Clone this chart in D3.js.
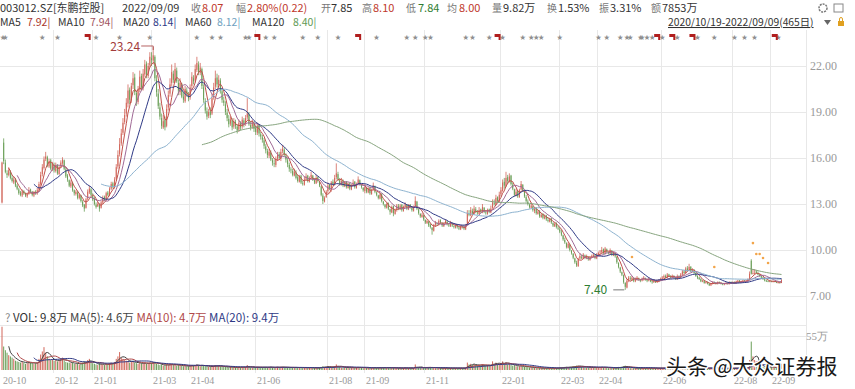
<!DOCTYPE html>
<html>
<head>
<meta charset="utf-8">
<script src="https://cdn.jsdelivr.net/npm/d3@7"></script>
<style>
body { margin: 0; background: #fff; }
svg { display: block; font-family: "Noto Sans CJK SC", "Noto Sans", sans-serif; }
</style>
</head>
<body>
<svg id="chart" width="855" height="389"></svg>
<script>
// daily candles, 2020/10/19 - 2022/09/09 (465 trading days)
var opens = [
  13.10,17.00,15.70,15.00,14.90,15.10,14.70,14.40,14.60,14.20,
  13.95,13.75,13.55,13.85,13.70,13.50,13.70,13.95,13.80,13.55,13.80,13.70,13.95,14.30,14.95,15.35,15.95,16.05,15.45,15.85,15.25,
  15.55,15.15,15.55,14.95,15.45,15.65,15.85,15.25,14.85,14.55,14.15,14.40,13.90,13.65,13.75,13.40,13.55,13.15,12.95,12.75,13.35,13.75,13.95,
  13.55,13.35,12.95,12.85,12.95,12.75,13.10,13.45,13.30,13.75,13.55,14.00,14.35,14.10,14.65,15.45,16.25,16.95,17.65,18.35,
  18.90,19.55,20.45,19.75,20.75,21.25,20.25,19.65,20.45,21.35,20.55,21.45,22.15,21.35,22.05,
  22.50,22.35,22.60,21.10,20.20,19.30,18.60,18.00,18.50,18.10,19.30,20.20,20.90,21.50,21.00,21.70,20.90,20.30,20.80,20.00,19.70,20.40,20.10,
  19.95,20.70,21.20,21.05,21.75,22.10,21.55,21.80,20.60,19.70,19.05,18.75,19.05,18.90,19.95,20.65,21.25,20.75,21.05,20.35,19.75,
  19.50,18.95,18.55,18.25,18.45,18.05,18.35,18.05,17.85,18.25,18.05,18.45,18.25,18.65,18.85,18.15,18.05,18.25,
  17.95,17.65,18.15,17.55,17.35,17.15,16.75,16.45,16.15,16.35,15.85,15.65,15.55,15.95,16.25,15.95,16.45,16.55,16.15,15.85,15.55,
  15.25,15.15,14.85,15.05,14.75,14.45,14.85,14.35,14.25,14.65,14.85,14.45,14.75,14.85,14.55,14.35,14.75,14.45,14.15,13.55,13.15,13.45,
  13.85,14.25,13.95,14.45,14.25,14.75,14.95,14.55,14.25,14.55,14.15,14.45,14.05,14.35,13.95,14.25,14.45,14.05,14.35,14.55,14.25,14.05,
  13.85,14.05,13.75,14.05,13.65,13.95,14.15,13.75,13.55,13.35,13.65,13.15,12.95,12.75,13.05,12.65,12.45,12.85,12.35,12.65,
  12.85,12.65,12.95,12.55,12.85,12.95,12.65,12.95,12.75,12.55,12.85,13.15,12.65,12.35,12.15,12.25,
  11.95,11.75,11.85,11.65,11.45,11.25,11.65,11.75,11.65,11.95,11.75,11.55,11.75,11.85,11.65,11.55,11.75,11.55,11.45,11.65,11.45,11.35,
  11.55,11.45,11.35,11.70,12.35,12.25,12.55,12.35,12.65,12.45,12.35,12.65,12.45,12.75,12.45,12.35,12.65,12.45,12.75,13.05,12.95,13.45,13.15,
  13.65,13.85,14.45,14.15,14.75,14.45,14.85,14.25,13.95,13.55,13.85,13.45,13.95,14.25,13.85,13.45,13.15,12.95,12.75,
  12.85,12.55,12.75,12.35,12.55,12.15,12.35,12.05,12.25,11.95,11.85,12.05,11.75,11.55,11.75,11.45,
  11.35,11.15,10.95,10.65,10.45,10.15,10.35,9.95,9.75,9.45,9.15,8.95,9.45,9.55,9.45,9.65,9.45,9.55,9.35,9.55,9.55,9.65,9.45,
  9.65,9.85,9.85,10.05,9.75,10.05,9.85,9.75,9.95,9.65,9.75,9.55,9.15,8.85,8.55,8.35,7.85,7.55,8.05,
  8.15,8.05,8.15,7.95,8.10,8.15,8.05,8.00,8.10,8.15,8.05,8.00,8.05,7.95,7.90,7.95,7.90,7.95,8.05,
  8.10,8.20,8.30,8.20,8.40,8.30,8.20,8.30,8.20,8.10,8.30,8.20,8.40,8.60,8.50,8.80,8.70,8.90,8.60,8.70,8.50,
  8.30,8.20,8.10,7.95,8.00,7.85,7.90,7.80,7.70,7.80,7.90,7.85,7.80,7.90,7.85,7.80,7.75,7.80,7.85,7.80,7.90,
  7.85,7.90,7.85,7.95,8.00,7.90,7.95,8.00,7.95,8.00,8.10,9.30,8.50,8.50,8.60,8.50,8.40,8.30,8.20,8.10,8.00,7.98,7.95,
  7.96,7.94,7.96,7.93,7.85,7.88,7.85
];
var highs = [
  15.76,17.28,15.90,15.20,15.40,15.20,14.90,14.80,14.70,14.30,
  14.05,13.85,13.95,13.90,13.75,13.75,14.10,14.00,13.85,13.85,13.90,14.05,14.45,15.10,15.60,16.10,16.40,16.15,15.95,15.95,15.75,
  15.70,15.70,15.60,15.50,15.85,16.05,15.90,15.35,14.95,14.60,14.55,14.45,13.95,13.90,13.85,13.70,13.60,13.25,13.00,13.40,13.95,14.20,14.05,
  13.70,13.45,13.10,13.15,13.05,13.20,13.55,13.55,13.80,13.85,14.10,14.45,14.45,14.75,15.60,16.50,17.30,17.90,18.60,19.20,
  19.90,20.80,20.60,20.90,21.60,21.50,20.40,20.70,21.70,21.50,21.80,22.40,22.30,22.20,22.90,
  22.90,23.24,22.70,21.40,20.50,19.60,18.90,18.80,18.70,19.50,20.40,21.20,22.10,21.70,22.20,21.90,21.10,21.20,20.90,20.30,20.70,20.60,20.30,
  20.80,21.60,21.40,22.10,22.60,22.30,22.20,21.90,20.80,19.90,19.30,19.20,19.30,20.20,20.90,21.70,21.50,21.40,21.20,20.50,20.00,
  19.70,19.20,18.80,18.70,18.60,18.60,18.50,18.20,18.50,18.40,18.70,18.60,18.80,19.90,19.00,18.40,18.50,18.40,
  18.10,18.30,18.20,17.70,17.50,17.30,16.90,16.60,16.60,16.50,16.00,15.90,16.10,16.40,16.40,16.60,16.85,16.70,16.30,16.00,15.70,
  15.40,15.30,15.30,15.20,14.90,14.90,14.90,14.50,14.80,15.00,14.90,14.80,15.10,14.90,14.70,14.90,14.80,14.50,14.20,13.70,13.50,13.90,
  14.40,14.30,14.50,14.60,14.90,15.65,15.10,14.70,14.70,14.60,14.50,14.50,14.40,14.40,14.30,14.60,14.50,14.40,14.80,14.60,14.30,14.10,
  14.30,14.10,14.10,14.10,14.00,14.40,14.20,13.80,13.60,13.70,13.70,13.20,13.00,13.10,13.10,12.70,12.90,12.90,12.70,13.00,
  13.00,13.00,13.00,12.90,13.10,13.00,13.00,13.00,12.80,12.90,13.50,13.20,12.70,12.40,12.40,12.30,
  12.00,12.00,11.90,11.70,11.50,11.70,11.90,11.80,12.00,12.00,11.80,11.80,12.00,11.90,11.70,11.90,11.80,11.60,11.70,11.70,11.50,11.60,
  11.60,11.60,11.70,12.60,12.60,12.80,12.70,12.90,12.80,12.60,12.80,12.70,13.00,12.80,12.60,12.70,12.70,12.90,13.30,13.30,13.60,13.50,13.80,
  14.10,14.60,14.70,15.10,14.90,15.00,14.90,14.40,14.00,14.00,13.90,14.00,14.50,14.30,13.90,13.60,13.30,13.00,13.10,
  12.90,12.80,12.80,12.60,12.60,12.40,12.40,12.30,12.30,12.10,12.10,12.10,11.80,11.80,11.80,11.60,
  11.50,11.30,11.00,10.80,10.50,10.50,10.40,10.00,9.80,9.50,9.30,9.50,9.80,9.70,9.80,9.70,9.70,9.60,9.60,9.70,9.80,9.70,9.80,
  9.90,10.00,10.20,10.10,10.20,10.10,9.90,10.10,10.00,9.90,9.80,9.60,9.20,8.90,8.60,8.40,7.90,8.10,8.30,
  8.30,8.30,8.20,8.20,8.30,8.20,8.10,8.20,8.30,8.20,8.10,8.20,8.10,8.00,8.10,8.00,8.00,8.10,8.20,
  8.30,8.40,8.40,8.50,8.45,8.35,8.40,8.35,8.25,8.40,8.35,8.50,8.70,8.70,8.90,8.95,9.10,8.95,8.80,8.75,8.55,
  8.35,8.25,8.15,8.05,8.05,7.95,7.95,7.85,7.85,7.95,7.95,7.90,7.95,7.95,7.90,7.85,7.85,7.90,7.90,7.95,7.95,
  7.95,7.95,8.00,8.05,8.05,8.00,8.05,8.05,8.05,8.15,8.60,9.40,8.75,8.75,8.70,8.60,8.45,8.35,8.25,8.15,8.05,8.02,8.02,
  8.00,8.00,7.99,7.96,7.92,7.90,8.10
];
var lows = [
  13.04,15.60,15.00,14.70,14.80,14.60,14.40,14.30,14.10,13.90,
  13.60,13.50,13.45,13.60,13.45,13.40,13.60,13.70,13.50,13.45,13.60,13.60,13.85,14.20,14.80,15.25,15.80,15.40,15.35,15.20,15.15,
  15.05,15.05,14.90,14.90,15.35,15.55,15.20,14.70,14.45,14.10,14.05,13.80,13.55,13.55,13.30,13.30,13.10,12.80,12.50,12.70,13.25,13.65,13.50,
  13.20,12.90,12.70,12.80,12.50,12.70,13.00,13.20,13.25,13.50,13.50,13.90,14.00,14.00,14.55,15.30,16.10,16.80,17.50,18.20,
  18.70,19.30,19.50,19.60,20.50,20.10,19.40,19.50,20.30,20.40,20.40,21.30,21.20,21.20,21.90,
  22.00,22.10,21.00,20.00,19.20,18.50,17.90,17.90,17.80,18.00,19.10,20.00,20.70,20.90,20.90,20.90,20.10,20.10,19.90,19.60,19.60,20.00,19.70,
  19.80,20.50,20.80,20.90,21.60,21.40,21.40,20.50,19.60,18.90,18.50,18.60,18.60,18.80,19.80,20.50,20.60,20.60,20.20,19.60,19.40,
  18.80,18.40,18.00,18.10,17.80,17.90,17.90,17.60,17.70,17.80,17.90,18.00,18.10,18.50,18.10,17.80,17.90,17.70,
  17.50,17.50,17.40,17.20,17.00,16.60,16.30,16.00,16.00,15.80,15.50,15.40,15.40,15.80,15.90,15.80,16.30,16.10,15.70,15.40,15.10,
  15.00,14.80,14.80,14.60,14.40,14.40,14.30,14.20,14.20,14.50,14.40,14.40,14.60,14.50,14.30,14.30,14.40,14.10,13.50,13.00,13.10,13.40,
  13.70,13.90,13.80,14.20,14.20,14.60,14.50,14.20,14.20,14.10,14.10,14.00,14.00,13.90,13.90,14.20,14.00,14.00,14.30,14.20,14.00,13.80,
  13.70,13.70,13.70,13.60,13.60,13.90,13.70,13.50,13.30,13.30,13.10,12.90,12.70,12.70,12.60,12.30,12.40,12.20,12.30,12.50,
  12.60,12.60,12.50,12.50,12.80,12.60,12.60,12.70,12.50,12.50,12.80,12.60,12.30,12.10,12.10,11.90,
  11.70,11.70,11.50,11.40,11.00,11.20,11.50,11.60,11.60,11.70,11.50,11.50,11.70,11.60,11.50,11.50,11.50,11.40,11.40,11.40,11.30,11.30,
  11.40,11.30,11.30,11.60,12.20,12.20,12.30,12.30,12.40,12.30,12.30,12.40,12.40,12.40,12.30,12.30,12.40,12.40,12.70,12.90,12.90,13.10,13.10,
  13.50,13.80,14.00,14.10,14.30,14.40,14.20,13.90,13.50,13.50,13.40,13.40,13.90,13.80,13.40,13.10,12.90,12.70,12.70,
  12.50,12.40,12.30,12.30,12.10,12.10,12.00,12.00,11.90,11.80,11.80,11.70,11.50,11.50,11.40,11.30,
  11.10,10.90,10.60,10.40,10.10,10.10,9.90,9.70,9.40,9.10,8.90,8.90,9.40,9.40,9.40,9.40,9.40,9.30,9.30,9.50,9.50,9.40,9.40,
  9.60,9.70,9.80,9.70,9.70,9.80,9.70,9.70,9.60,9.60,9.50,9.10,8.80,8.50,8.30,7.80,7.40,7.50,7.90,
  8.00,8.00,7.90,7.90,8.00,8.00,7.90,7.95,8.00,8.00,7.90,7.95,7.90,7.80,7.85,7.85,7.85,7.90,8.00,
  8.05,8.15,8.15,8.15,8.25,8.15,8.15,8.15,8.05,8.05,8.15,8.15,8.35,8.45,8.45,8.60,8.65,8.55,8.55,8.45,8.25,
  8.10,8.05,7.90,7.90,7.80,7.80,7.75,7.65,7.65,7.75,7.80,7.75,7.75,7.80,7.75,7.70,7.70,7.75,7.75,7.75,7.80,
  7.80,7.80,7.80,7.90,7.85,7.85,7.90,7.90,7.90,7.95,8.05,8.40,8.40,8.40,8.45,8.35,8.25,8.15,8.05,7.95,7.92,7.90,7.90,
  7.90,7.90,7.90,7.84,7.83,7.82,7.84
];
var closes = [
  15.70,15.80,15.10,14.90,15.20,14.70,14.50,14.60,14.20,14.00,
  13.70,13.60,13.80,13.70,13.55,13.65,13.90,13.80,13.60,13.75,13.70,13.90,14.30,14.90,15.40,15.90,16.10,15.50,15.80,15.30,15.60,
  15.20,15.50,15.00,15.40,15.70,15.90,15.30,14.80,14.60,14.20,14.40,13.90,13.70,13.80,13.40,13.60,13.20,12.90,12.70,13.30,13.80,14.00,13.60,
  13.30,13.00,12.80,13.00,12.70,13.10,13.40,13.30,13.70,13.60,14.00,14.30,14.10,14.60,15.40,16.20,16.90,17.60,18.30,18.80,
  19.60,20.40,19.80,20.70,21.20,20.30,19.60,20.50,21.30,20.60,21.50,22.10,21.40,22.00,22.60,
  22.40,22.70,21.20,20.30,19.40,18.70,18.10,18.40,18.00,19.20,20.10,20.80,21.60,21.10,21.80,21.00,20.40,20.90,20.00,19.80,20.50,20.20,19.90,
  20.60,21.30,21.00,21.80,22.20,21.60,21.90,20.70,19.80,19.10,18.70,19.00,18.80,19.90,20.60,21.20,20.80,21.10,20.40,19.80,19.60,
  19.00,18.60,18.20,18.50,18.00,18.40,18.10,17.80,18.30,18.00,18.50,18.20,18.60,18.90,18.20,18.00,18.30,17.90,
  17.70,18.10,17.60,17.40,17.20,16.80,16.50,16.20,16.40,15.90,15.70,15.60,15.90,16.20,16.00,16.40,16.60,16.20,15.90,15.60,15.30,
  15.20,14.90,15.10,14.70,14.50,14.80,14.40,14.30,14.60,14.80,14.50,14.70,14.90,14.60,14.40,14.70,14.50,14.20,13.60,13.20,13.40,13.80,
  14.20,14.00,14.40,14.30,14.70,15.00,14.60,14.30,14.50,14.20,14.40,14.10,14.30,14.00,14.20,14.40,14.10,14.30,14.60,14.30,14.10,13.90,
  14.10,13.80,14.00,13.70,13.90,14.20,13.80,13.60,13.40,13.60,13.20,13.00,12.80,13.00,12.70,12.50,12.80,12.40,12.60,12.90,
  12.70,12.90,12.60,12.80,13.00,12.70,12.90,12.80,12.60,12.80,13.20,12.70,12.40,12.20,12.30,12.00,
  11.80,11.90,11.60,11.50,11.30,11.60,11.80,11.70,11.90,11.80,11.60,11.70,11.90,11.70,11.60,11.80,11.60,11.50,11.60,11.50,11.40,11.55,
  11.50,11.40,11.60,12.40,12.30,12.60,12.40,12.70,12.50,12.40,12.60,12.50,12.80,12.50,12.40,12.60,12.50,12.70,13.10,13.00,13.40,13.20,13.60,
  13.90,14.40,14.20,14.70,14.50,14.80,14.30,14.00,13.60,13.80,13.50,13.90,14.30,13.90,13.50,13.20,13.00,12.80,12.90,
  12.60,12.70,12.40,12.50,12.20,12.30,12.10,12.20,12.00,11.90,12.00,11.80,11.60,11.70,11.50,11.40,
  11.20,11.00,10.70,10.50,10.20,10.40,10.00,9.80,9.50,9.20,9.00,9.40,9.60,9.50,9.70,9.50,9.60,9.40,9.50,9.60,9.70,9.50,9.70,
  9.80,9.90,10.00,9.80,10.10,9.90,9.80,10.00,9.70,9.80,9.60,9.20,8.90,8.60,8.40,7.90,7.60,8.00,8.20,
  8.10,8.20,8.00,8.10,8.20,8.10,8.00,8.10,8.20,8.10,8.00,8.10,7.95,7.90,8.00,7.90,7.95,8.05,8.10,
  8.20,8.30,8.20,8.40,8.30,8.20,8.30,8.20,8.10,8.30,8.20,8.40,8.60,8.50,8.80,8.70,8.90,8.60,8.70,8.50,8.30,
  8.20,8.10,7.95,8.00,7.85,7.90,7.80,7.70,7.80,7.90,7.85,7.80,7.90,7.85,7.80,7.75,7.80,7.85,7.80,7.90,7.85,
  7.90,7.85,7.95,8.00,7.90,7.95,8.00,7.95,8.00,8.10,8.45,8.45,8.50,8.50,8.50,8.40,8.30,8.20,8.10,8.00,7.98,7.95,7.97,
  7.95,7.95,7.94,7.86,7.88,7.85,8.07
];
// volume, 万
var volumes = [
  70,38,32,28,24,22,20,18,15,14,
  13,12,14,12,10,11,13,12,11,10,11,12,18,25,30,37,28,22,18,16,17,
  15,16,14,16,18,20,15,13,12,12,11,12,10,10,11,9,10,12,14,13,16,18,12,
  11,10,9,8,11,10,9,8,10,9,11,12,10,13,18,22,29,20,18,16,
  15,14,12,13,14,12,11,10,12,11,10,12,10,11,12,
  11,13,12,10,9,8,9,7,8,9,8,9,10,8,9,7,8,7,7,6,7,6,6,
  7,8,7,8,9,7,6,8,7,6,6,5,5,6,7,8,6,7,6,5,5,
  5,5,4,5,4,4,4,4,5,4,5,4,5,8,5,4,4,4,
  4,5,4,4,4,5,5,4,4,5,4,4,4,5,4,5,5,4,4,4,4,
  4,4,4,4,4,4,4,3,4,4,3,4,4,3,3,4,3,4,5,6,5,5,
  6,5,5,4,6,9,6,5,4,4,4,4,4,3,4,4,3,4,5,4,4,3,
  4,3,4,3,3,4,4,3,4,3,4,4,4,3,4,4,3,4,3,3,
  3,3,3,3,4,3,3,3,3,3,9,4,4,4,3,4,
  4,3,4,4,5,4,3,3,3,3,3,3,3,3,3,3,3,3,3,3,3,3,
  3,3,4,12,9,10,8,9,8,7,8,7,9,8,7,8,7,8,14,10,12,9,10,
  11,14,10,12,9,10,8,7,8,6,6,6,7,6,5,5,5,4,4,
  4,4,3,3,3,3,3,3,3,3,3,3,3,3,3,3,
  4,4,4,5,5,4,5,5,6,6,7,7,6,5,5,5,4,4,4,4,4,4,4,
  4,4,5,4,4,4,3,4,3,3,3,4,5,5,5,6,7,5,4,
  3,3,3,3,3,3,3,3,3,3,3,3,3,3,3,3,3,3,3,
  3,3,3,3,3,3,3,3,3,3,3,3,4,3,5,4,5,4,3,3,3,
  3,3,3,3,3,2,3,3,3,2,3,3,2,3,3,2,3,3,2,3,3,
  3,3,3,3,3,3,3,3,3,4,16,46,22,16,12,9,6,5,5,4,5,5,5,
  4.5,4.5,3.2,3.4,3.3,3.3,9.8
];

var tickLabels = ["20-10","20-12","21-01","21-03","21-04","21-06","21-08","21-09","21-11","22-01","22-03","22-04","22-06","22-08","22-09"];
var tickIndex = [0,31,54,89,112,151,194,216,252,297,332,355,393,435,458];
var priceTicks = [7,10,13,16,19,22];
var maPeriods = [5,10,20,60,120];
var maColors = ["#c0504a","#a06a96","#2f3a86","#8cb2cf","#86a47e"];
var maLatest = ["7.92","7.94","8.14","8.12","8.40"];
var maValColors = ["#a8352b","#a0525e","#2f3a86","#6f9fc0","#5f9a55"];
var volMaPeriods = [5,10,20];
var volMaColors = ["#444444","#b04848","#2f3a86"];
var starIndex = [0,2,24,33,56,70,88,116,125,130,145,147,157,162,179,188,200,223,241,246,252,255,276,280,290,298,310,315,318,321,332,355,360,368,372,374,380,381,384,387,393,402,414,424,436,442,448,462];
var flagIndex = [51,152,212,295,390,399,411,460];
var dotIndex = [375,424,447,449,451,453,456];
var dotPrice = [9.54,8.89,10.45,9.74,9.74,9.48,9.15];

var svg = d3.select("#chart");
var W = 855, H = 389;
var plotRight = 806;

svg.append("rect").attr("width", W).attr("height", H).attr("fill", "#fff");

var x = d3.scaleLinear().domain([0, closes.length - 1]).range([2, 781.5]);
var y = d3.scaleLinear().domain([7, 22]).range([296, 66]);
var yv = d3.scaleLinear().domain([0, 55]).range([370, 336]);

function movingAvg(arr, n) {
    return arr.map(function(d, i) {
        if (i < n - 1) return null;
        return d3.mean(arr.slice(i - n + 1, i + 1));
    });
}

var grid = svg.append("g").attr("stroke", "#e8e8e8").attr("stroke-width", 1);
grid.selectAll(".hg").data(priceTicks).enter().append("line")
    .attr("x1", 0).attr("x2", plotRight)
    .attr("y1", d => Math.round(y(d)) + 0.5).attr("y2", d => Math.round(y(d)) + 0.5);
grid.append("line").attr("x1", 0).attr("x2", plotRight)
    .attr("y1", Math.round(yv(55)) + 0.5).attr("y2", Math.round(yv(55)) + 0.5);
grid.append("line").attr("x1", 0).attr("x2", plotRight).attr("y1", 325.5).attr("y2", 325.5);
grid.selectAll(".vg").data(tickIndex.slice(1)).enter().append("line")
    .attr("x1", d => Math.round(x(d)) - 0.5).attr("x2", d => Math.round(x(d)) - 0.5)
    .attr("y1", 30).attr("y2", 373);
grid.append("line").attr("x1", plotRight + 0.5).attr("x2", plotRight + 0.5).attr("y1", 30).attr("y2", 373);

var upColor = "#d2665a", downColor = "#6b9f58";
var idx = d3.range(closes.length);
function candleColor(i) { return closes[i] >= opens[i] ? upColor : downColor; }

// candles
var cg = svg.append("g");
cg.selectAll("line").data(idx).enter().append("line")
    .attr("x1", i => x(i)).attr("x2", i => x(i))
    .attr("y1", i => y(highs[i])).attr("y2", i => y(lows[i]))
    .attr("stroke", candleColor).attr("stroke-width", 0.8);
cg.selectAll("rect").data(idx).enter().append("rect")
    .attr("x", i => x(i) - 0.5).attr("width", 1)
    .attr("y", i => y(Math.max(opens[i], closes[i])))
    .attr("height", i => Math.max(0.8, Math.abs(y(opens[i]) - y(closes[i]))))
    .attr("fill", candleColor);

// moving averages
maPeriods.forEach(function(n, k) {
    var vals = movingAvg(closes, n);
    var line = d3.line().defined(d => d != null).x((d, i) => x(i)).y(d => y(d));
    svg.append("path").datum(vals).attr("d", line)
        .attr("fill", "none").attr("stroke", maColors[k]).attr("stroke-width", 1);
});

// signal dots
svg.selectAll(".dot").data(dotIndex).enter().append("circle")
    .attr("cx", i => x(i)).attr("cy", (i, k) => y(dotPrice[k])).attr("r", 1.3)
    .attr("fill", "#f2a54a");

// stars and flags
svg.selectAll(".star").data(starIndex).enter().append("text")
    .attr("x", i => Math.max(3, x(i))).attr("y", 39).attr("text-anchor", "middle")
    .attr("font-size", 6).attr("fill", "#8f8f8f").text("★");
svg.selectAll(".flag").data(flagIndex).enter().append("path")
    .attr("d", i => { var cx = x(i); return "M" + (cx - 3) + ",34h6v6h-2v-3h-4z"; })
    .attr("fill", "#b01e1e");

// max / min labels
var hiI = d3.maxIndex(highs), loI = d3.minIndex(lows);
var hy = y(highs[hiI]) - 1;
svg.append("path").attr("d", "M" + (x(hiI) - 12) + "," + hy + "H" + x(hiI) + "V" + (hy + 4))
    .attr("fill", "none").attr("stroke", "#a33c3c").attr("stroke-width", 0.8);
svg.append("text").attr("x", x(hiI) - 13).attr("y", hy + 5.5).attr("text-anchor", "end")
    .attr("font-size", 12).attr("fill", "#a33c3c").text(highs[hiI].toFixed(2));
var ly = y(lows[loI]);
svg.append("line").attr("x1", x(loI) - 12).attr("x2", x(loI) - 1).attr("y1", ly).attr("y2", ly)
    .attr("stroke", "#555").attr("stroke-width", 0.8);
svg.append("text").attr("x", x(loI) - 18).attr("y", ly + 4).attr("text-anchor", "end")
    .attr("font-size", 12).attr("fill", "#2e7d32").text(lows[loI].toFixed(2));

// price axis labels
svg.selectAll(".pt").data(priceTicks).enter().append("text")
    .attr("x", 810).attr("y", d => y(d) + 4)
    .attr("font-family", "'Liberation Serif', serif").attr("font-size", 12).attr("fill", "#9a9a9a")
    .text(d => d.toFixed(2));

// volume
var vg = svg.append("g");
vg.selectAll("line").data(idx).enter().append("line")
    .attr("x1", i => x(i)).attr("x2", i => x(i))
    .attr("y1", yv(0)).attr("y2", i => yv(volumes[i]))
    .attr("stroke", candleColor).attr("stroke-width", 1);
volMaPeriods.forEach(function(n, k) {
    var vals = movingAvg(volumes, n);
    var line = d3.line().defined(d => d != null).x((d, i) => x(i)).y(d => yv(d));
    svg.append("path").datum(vals).attr("d", line)
        .attr("fill", "none").attr("stroke", volMaColors[k]).attr("stroke-width", 1);
});
svg.append("text").attr("x", 806).attr("y", yv(55) + 4)
    .attr("font-family", "'Liberation Serif', serif").attr("font-size", 11).attr("fill", "#9a9a9a").text("55万");

// volume legend
var last = closes.length - 1;
var vl = svg.append("text").attr("x", 5).attr("y", 322).attr("font-size", 11.5);
vl.append("tspan").attr("fill", "#888").text("?  ");
vl.append("tspan").attr("fill", "#333").text("VOL: " + volumes[last].toFixed(1) + "万 ");
vl.append("tspan").attr("fill", "#444").text("MA(5): " + movingAvg(volumes, 5)[last].toFixed(1) + "万 ");
vl.append("tspan").attr("fill", "#b04848").text("MA(10): " + movingAvg(volumes, 10)[last].toFixed(1) + "万 ");
vl.append("tspan").attr("fill", "#2f3a86").text("MA(20): " + movingAvg(volumes, 20)[last].toFixed(1) + "万");

// date axis
svg.selectAll(".xt").data(tickIndex).enter().append("text")
    .attr("x", d => Math.round(x(d)) + 1).attr("y", 384)
    .attr("font-family", "'Liberation Serif', serif").attr("font-size", 10).attr("fill", "#9a9a9a")
    .text((d, i) => tickLabels[i]);

// header
var head1 = [
    [0, "003012.SZ[东鹏控股]", "#333", 11], [122, "2022/09/09", "#333", 11],
    [191, "收", "#777", 10], [202, "8.07", "#c0392b", 11],
    [236, "幅", "#777", 10], [247, "2.80%(0.22)", "#c0392b", 11],
    [321, "开", "#777", 10], [331, "7.85", "#333", 11],
    [362, "高", "#777", 10], [373, "8.10", "#c0392b", 11],
    [406, "低", "#777", 10], [418, "7.84", "#2e7d32", 11],
    [447, "均", "#777", 10], [459, "8.00", "#c0392b", 11],
    [492, "量", "#777", 10], [503, "9.82万", "#333", 11],
    [547, "换", "#777", 10], [558, "1.53%", "#333", 11],
    [599, "振", "#777", 10], [610, "3.31%", "#333", 11],
    [651, "额", "#777", 10], [662, "7853万", "#333", 11]
];
svg.selectAll(".h1").data(head1).enter().append("text")
    .attr("x", d => d[0]).attr("y", 12).attr("font-size", d => d[3])
    .attr("fill", d => d[2]).text(d => d[1]);

var maX = [0, 58, 123, 185, 252];
var maValX = [27, 90, 153, 217, 293];
maPeriods.forEach(function(n, k) {
    svg.append("text").attr("x", maX[k]).attr("y", 26).attr("font-size", 10.5).attr("fill", "#333").text("MA" + n);
    svg.append("text").attr("x", maValX[k]).attr("y", 26).attr("font-size", 10.5).attr("fill", maValColors[k])
        .text(maLatest[k] + "|");
});

svg.append("text").attr("x", 668).attr("y", 26).attr("font-size", 10.3).attr("fill", "#333")
    .attr("text-decoration", "underline").text("2020/10/19-2022/09/09(465日)");
svg.append("path").attr("d", "M824,20h7l-3.5,5z").attr("fill", "#666");
svg.append("rect").attr("x", 838).attr("y", 21).attr("width", 6).attr("height", 5).attr("fill", "#e0a020");
svg.append("path").attr("d", "M839.5,21v-2a1.5,1.5 0 0 1 3,0v2").attr("fill", "none").attr("stroke", "#e0a020");
svg.append("circle").attr("cx", 823).attr("cy", 8).attr("r", 4).attr("fill", "none").attr("stroke", "#777").attr("stroke-width", 1.5).attr("stroke-dasharray", "2 1");
svg.append("rect").attr("x", 834).attr("y", 4).attr("width", 9).attr("height", 8).attr("fill", "none").attr("stroke", "#888");

// watermark
svg.append("text").attr("x", 666).attr("y", 374).attr("font-size", 21)
    .attr("fill", "#1a1a1a").attr("stroke", "#fff").attr("stroke-width", 3)
    .attr("paint-order", "stroke").text("头条 @大众证券报");
</script>
</body>
</html>
